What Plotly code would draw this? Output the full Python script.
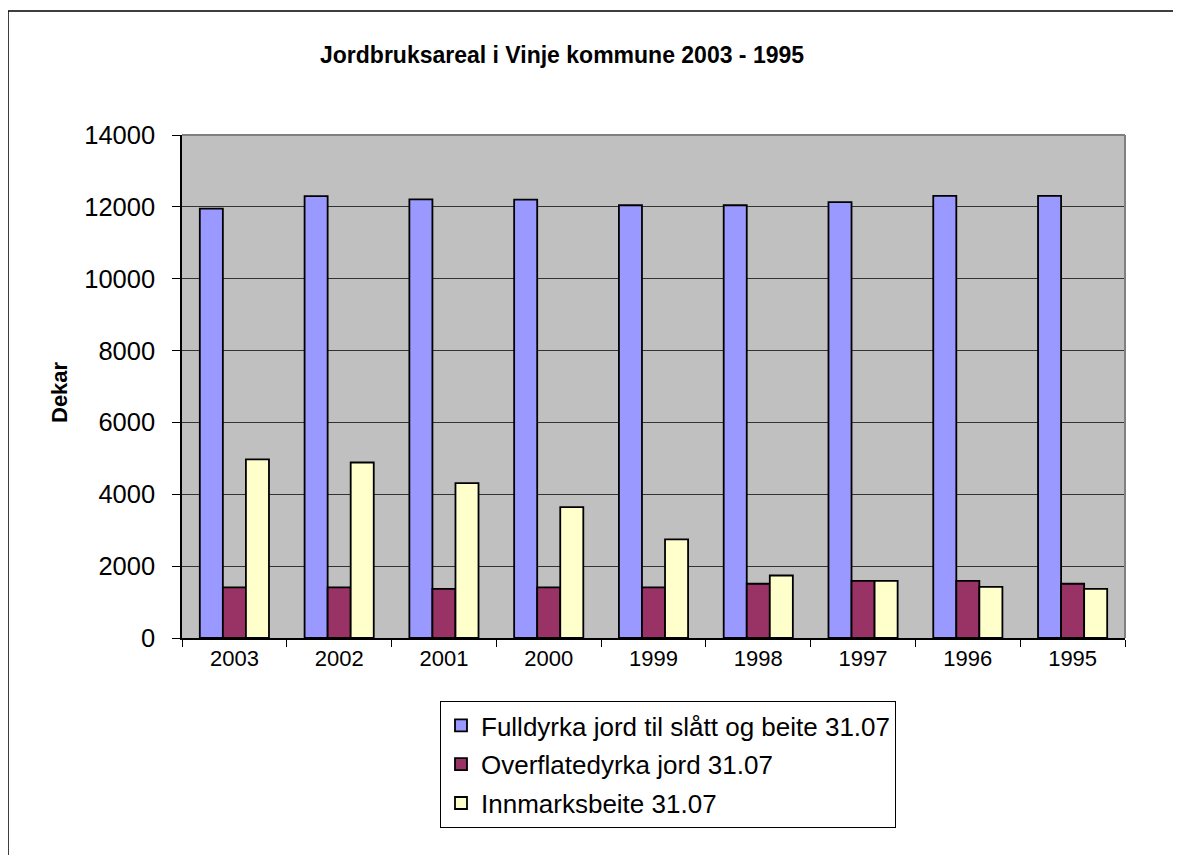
import plotly.graph_objects as go

years = ["2003", "2002", "2001", "2000", "1999", "1998", "1997", "1996", "1995"]
fulldyrka = [11950, 12300, 12210, 12200, 12045, 12045, 12130, 12305, 12305]
overflatedyrka = [1410, 1410, 1365, 1410, 1410, 1510, 1590, 1590, 1510]
innmarksbeite = [4970, 4885, 4310, 3645, 2745, 1740, 1590, 1425, 1370]
series_names = ["Fulldyrka jord til slått og beite 31.07",
                "Overflatedyrka jord 31.07",
                "Innmarksbeite 31.07"]
colors = ["#9999FF", "#993366", "#FFFFCC"]
y_ticks = [0, 2000, 4000, 6000, 8000, 10000, 12000, 14000]

W, H = 1181, 855
OFF = 8  # page body margin offset
L, R, T, B = 182 - OFF, 1125 - OFF, 135 - OFF, 638 - OFF
FONT = "Arial, Liberation Sans, sans-serif"

def px_x(x):
    return (x - OFF - L) / (R - L)

def px_y(y):
    return (B - (y - OFF)) / (B - T)

fig = go.Figure()
for i, (name, vals) in enumerate(zip(series_names, [fulldyrka, overflatedyrka, innmarksbeite])):
    fig.add_trace(go.Bar(
        x=years, y=vals, name=name, legendgroup=f"g{i}",
        marker=dict(color=colors[i], line=dict(color="black", width=1.8)),
    ))

fig.update_layout(
    width=W, height=H,
    margin=dict(l=L, r=W - R, t=T, b=H - B, autoexpand=False),
    paper_bgcolor="white", plot_bgcolor="#C0C0C0",
    barmode="group", bargap=0.34, bargroupgap=0,
    font=dict(family=FONT, color="black"),
    showlegend=True,
    legend=dict(
        x=px_x(440), y=px_y(701), xanchor="left", yanchor="top",
        bgcolor="white", bordercolor="black", borderwidth=1,
        font=dict(size=26, family=FONT, color="black"),
        tracegroupgap=2, itemwidth=30,
    ),
    xaxis=dict(
        type="category", showline=True, linecolor="black", linewidth=1.5,
        ticks="outside", tickson="boundaries", ticklen=7, tickcolor="black",
        tickfont=dict(size=22, family=FONT), showgrid=False,
    ),
    yaxis=dict(
        range=[0, 14000], tickvals=y_ticks, tickformat="d",
        showline=True, linecolor="black", linewidth=1.5,
        ticks="outside", ticklen=8, tickcolor="black",
        tickfont=dict(size=25.5, family=FONT), ticklabelstandoff=12,
        showgrid=True, gridcolor="#333333", gridwidth=1, zeroline=False,
    ),
)

# Plot area gray border (top and right)
fig.add_shape(type="line", xref="paper", yref="paper", x0=0, x1=1, y0=1, y1=1,
              line=dict(color="#808080", width=2))
fig.add_shape(type="line", xref="paper", yref="paper", x0=1, x1=1, y0=0, y1=1,
              line=dict(color="#808080", width=2))
# Outer chart border
fig.add_shape(type="rect", xref="paper", yref="paper",
              x0=px_x(8), x1=px_x(1179), y0=px_y(870), y1=px_y(11),
              line=dict(color="black", width=1.5), layer="above")

fig.add_annotation(text="<b>Jordbruksareal i Vinje kommune 2003 - 1995</b>",
                   xref="paper", yref="paper", x=px_x(562), y=px_y(55),
                   xanchor="center", yanchor="middle", showarrow=False,
                   font=dict(size=23, family=FONT, color="black"))
fig.add_annotation(text="<b>Dekar</b>", textangle=-90,
                   xref="paper", yref="paper", x=px_x(59), y=px_y(392),
                   xanchor="center", yanchor="middle", showarrow=False,
                   font=dict(size=22, family=FONT, color="black"))

fig.write_html("out.html")
